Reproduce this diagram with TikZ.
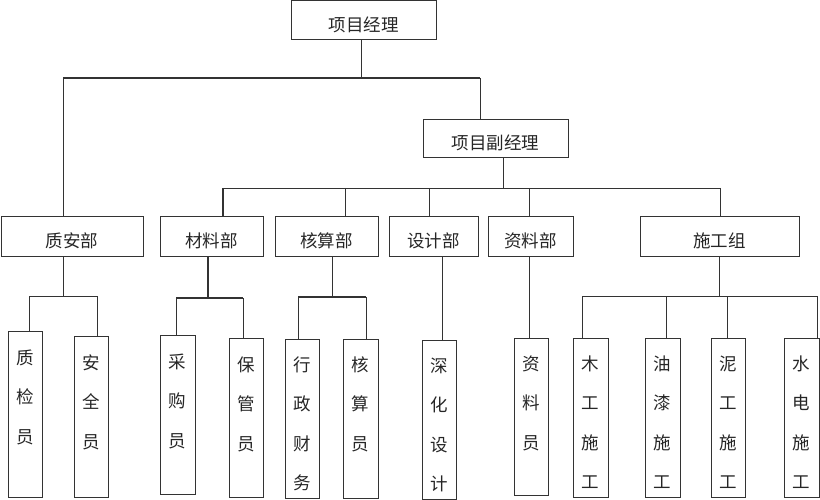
\documentclass[tikz,border=0pt]{standalone}
\usepackage{fontspec}
\setmainfont{Noto Sans CJK SC}
\usepackage{tikz}
\usetikzlibrary{positioning}
\tikzstyle{line} = [draw=black!80, line width=0.8pt]
\tikzstyle{bus} = [draw=black!80, line width=1.6pt]
\tikzstyle{unit} = [rectangle, draw=black!80, line width=1pt, inner sep=0pt, text height=22pt, text depth=0pt, font=\fontsize{17.5}{20}\selectfont, text=black!85]
\tikzstyle{post} = [rectangle, draw=black!80, line width=1pt, inner sep=0pt, minimum width=34pt, minimum height=159pt]
\tikzstyle{vtext} = [inner sep=0pt, align=center, font=\fontsize{17.5}{39.5}\selectfont, text=black!85]

\begin{document}
\begin{tikzpicture}[x=1pt, y=-1pt]
    \useasboundingbox (0,0) rectangle (820,500);

    % Managers
    \node[unit, minimum width=145pt, minimum height=39pt] (pm) at (363.5,20.5) {项目经理};
    \node[unit, minimum width=145pt, minimum height=38pt] (fpm) at (495.5,139) {项目副经理};

    % Departments
    \node[unit, minimum width=142pt, minimum height=39pt] (zab) at (72,236.5) {质安部};
    \node[unit, minimum width=103pt, minimum height=39pt] (clb) at (211.5,236.5) {材料部};
    \node[unit, minimum width=103pt, minimum height=39pt] (hsb) at (326.5,236.5) {核算部};
    \node[unit, minimum width=89pt, minimum height=39pt] (sjb) at (433.5,236.5) {设计部};
    \node[unit, minimum width=85pt, minimum height=39pt] (zlb) at (530.5,236.5) {资料部};
    \node[unit, minimum width=159pt, minimum height=39pt] (sgz) at (719.5,236.5) {施工组};

    % Posts
    \node[post, minimum height=166pt] (zjy) at (25,414) {};
    \node[vtext, below=19pt of zjy.north] (zjy-t) {质\\检\\员};
    \node[post, minimum height=161pt] (aqy) at (91,416.5) {};
    \node[vtext, below=19pt of aqy.north] (aqy-t) {安\\全\\员};
    \node[post, minimum width=35pt] (cgy) at (177.5,414.5) {};
    \node[vtext, below=19pt of cgy.north] (cgy-t) {采\\购\\员};
    \node[post] (bgy) at (246,417.5) {};
    \node[vtext, below=19pt of bgy.north] (bgy-t) {保\\管\\员};
    \node[post] (xzcw) at (302,418.5) {};
    \node[vtext, below=18pt of xzcw.north] (xzcw-t) {行\\政\\财\\务};
    \node[post, minimum width=35pt] (hsy) at (360.5,418.5) {};
    \node[vtext, below=18pt of hsy.north] (hsy-t) {核\\算\\员};
    \node[post] (shsj) at (439,419.5) {};
    \node[vtext, below=18pt of shsj.north] (shsj-t) {深\\化\\设\\计};
    \node[post, minimum height=157pt] (zly) at (531,416.5) {};
    \node[vtext, below=18pt of zly.north] (zly-t) {资\\料\\员};
    \node[post, minimum width=35pt] (mgsg) at (590.5,417.5) {};
    \node[vtext, below=18pt of mgsg.north] (mgsg-t) {木\\工\\施\\工};
    \node[post, minimum width=35pt] (yqsg) at (662.5,417.5) {};
    \node[vtext, below=18pt of yqsg.north] (yqsg-t) {油\\漆\\施\\工};
    \node[post] (ngsg) at (728,417.5) {};
    \node[vtext, below=18pt of ngsg.north] (ngsg-t) {泥\\工\\施\\工};
    \node[post, minimum width=35pt] (sdsg) at (801.5,417.5) {};
    \node[vtext, below=18pt of sdsg.north] (sdsg-t) {水\\电\\施\\工};

    % Manager level
    \coordinate (b1l) at (63,78);
    \coordinate (b1r) at (480,78);
    \draw[bus] (b1l) -- (b1r);
    \draw[line] ([xshift=-2.5pt]pm.south) -- ([xshift=-2.5pt]pm.south |- b1l);
    \draw[line] (b1l) -- (b1l |- zab.north);
    \draw[line] (b1r) -- (b1r |- fpm.north);

    % Deputy level
    \coordinate (b2l) at (223,188);
    \coordinate (b2r) at (720,188);
    \draw[line] (b2l) -- (b2r);
    \draw[line] ([xshift=7.5pt]fpm.south) -- ([xshift=7.5pt]fpm.south |- b2l);
    \draw[bus] (b2l) -- (b2l |- clb.north);
    \foreach \x/\n in {345/hsb, 429/sjb, 529/zlb, 720/sgz}
        \draw[line] (\x,188) -- (\x,188 |- \n.north);

    % Department level
    \coordinate (z1) at (29,296);
    \coordinate (z2) at (97,296);
    \draw[line] ([xshift=-8.5pt]zab.south) -- ([xshift=-8.5pt]zab.south |- z1);
    \draw[line] (z1 |- zjy.north) |- (z2) -- (z2 |- aqy.north);

    \coordinate (c1) at (176,298);
    \coordinate (c2) at (243,298);
    \draw[bus] ([xshift=-3.5pt]clb.south) -- ([xshift=-3.5pt]clb.south |- c1);
    \draw[bus] (c1) -- (c2);
    \draw[line] (c1) -- (c1 |- cgy.north);
    \draw[line] (c2) -- (c2 |- bgy.north);

    \coordinate (h1) at (298,297);
    \coordinate (h2) at (366,297);
    \draw[line] ([xshift=5.5pt]hsb.south) -- ([xshift=5.5pt]hsb.south |- h1);
    \draw[bus] (h1) -- (h2);
    \draw[line] (h1) -- (h1 |- xzcw.north);
    \draw[line] (h2) -- (h2 |- hsy.north);

    \draw[line] ([xshift=8.5pt]sjb.south) -- ([xshift=8.5pt]sjb.south |- shsj.north);
    \draw[line] ([xshift=-1.5pt]zlb.south) -- ([xshift=-1.5pt]zlb.south |- zly.north);

    \coordinate (s1) at (582,296);
    \coordinate (s2) at (817,296);
    \draw[line] (sgz.south) -- (sgz.south |- s1);
    \draw[line] (s1) -- (s2);
    \foreach \x/\n in {582/mgsg, 666/yqsg, 727/ngsg, 817/sdsg}
        \draw[line] (\x,296) -- (\x,296 |- \n.north);

\end{tikzpicture}
\end{document}
